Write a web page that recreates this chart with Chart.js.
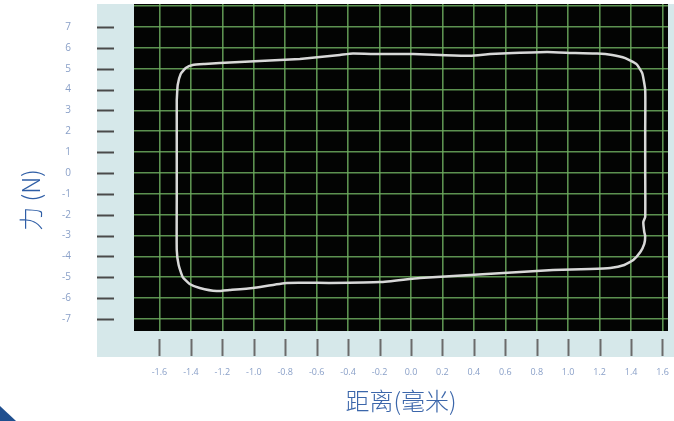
<!DOCTYPE html>
<html><head><meta charset="utf-8">
<script src="https://cdn.jsdelivr.net/npm/chart.js@4"></script>
<style>html,body{margin:0;padding:0;background:#fff;overflow:hidden}#wrap{width:674px;height:421px;position:relative}</style>
</head><body><div id="wrap"><canvas id="c"></canvas></div>
<script>
// Hysteresis loop (distance in mm, force in N)
const loopX = [-1.490,-1.484,-1.465,-1.433,-1.389,-1.312,-1.217,-1.089,-0.962,-0.834,-0.707,-0.580,-0.452,-0.369,-0.197,0.013,0.185,0.376,0.503,0.650,0.866,1.045,1.185,1.280,1.363,1.433,1.471,1.490,1.490,1.490,1.490,1.478,1.484,1.490,1.484,1.459,1.414,1.357,1.268,1.140,0.904,0.694,0.376,0.057,-0.197,-0.516,-0.790,-1.006,-1.153,-1.236,-1.344,-1.408,-1.452,-1.478,-1.490,-1.490,-1.490,-1.490];
const loopY = [3.50,4.22,4.75,5.03,5.18,5.23,5.27,5.32,5.37,5.42,5.47,5.56,5.66,5.73,5.70,5.70,5.66,5.62,5.70,5.75,5.80,5.75,5.73,5.66,5.51,5.23,4.79,3.98,2.06,0.14,-2.11,-2.35,-2.83,-3.02,-3.40,-3.79,-4.17,-4.41,-4.55,-4.60,-4.65,-4.75,-4.89,-5.03,-5.23,-5.27,-5.27,-5.51,-5.61,-5.66,-5.51,-5.32,-4.99,-4.41,-3.69,-1.29,1.10,3.50];
const xTicks = [-1.6,-1.4,-1.2,-1.0,-0.8,-0.6,-0.4,-0.2,0.0,0.2,0.4,0.6,0.8,1.0,1.2,1.4,1.6];
const yTicks = [-7,-6,-5,-4,-3,-2,-1,0,1,2,3,4,5,6,7,8];
const yLabelMax = 7;
const xTitle = '距离(毫米)';
const yTitle = '力 (N)';

const points = loopX.map((x, i) => ({x: x, y: loopY[i]}));

function noPad(s) { s.paddingTop = 0; s.paddingBottom = 0; s.paddingLeft = 0; s.paddingRight = 0; }

const decor = {
  id: 'decor',
  beforeDraw(chart) {
    const ctx = chart.ctx, a = chart.chartArea;
    ctx.save();
    ctx.fillStyle = '#d6e8ea';
    ctx.fillRect(97, a.top, chart.width - 97, 357 - a.top);
    ctx.fillStyle = '#030403';
    ctx.fillRect(a.left, a.top, a.right - a.left, a.bottom - a.top);
    ctx.fillStyle = '#1f4f8f';
    ctx.beginPath();
    ctx.moveTo(0, 406); ctx.lineTo(16, 421); ctx.lineTo(0, 421); ctx.closePath();
    ctx.fill();
    ctx.restore();
  },
  afterDraw(chart) {
    const ctx = chart.ctx, xs = chart.scales.x, ys = chart.scales.y;
    ctx.save();
    ctx.lineWidth = 2;
    ctx.strokeStyle = '#4a4a4a';
    ys.ticks.forEach(t => {
      if (t.value > yLabelMax) return;
      const p = Math.round(ys.getPixelForValue(t.value)) + 0.5;
      ctx.beginPath(); ctx.moveTo(97, p); ctx.lineTo(114, p); ctx.stroke();
    });
    ctx.strokeStyle = '#6a6a6a';
    xs.ticks.forEach(t => {
      const p = Math.round(xs.getPixelForValue(t.value)) + 0.5;
      ctx.beginPath(); ctx.moveTo(p, 339); ctx.lineTo(p, 356); ctx.stroke();
    });
    ctx.translate(31, 200);
    ctx.rotate(-Math.PI / 2);
    ctx.fillStyle = '#2f5ea6';
    ctx.font = '300 24px "Noto Sans CJK SC", "Noto Sans", sans-serif';
    ctx.textAlign = 'center';
    ctx.textBaseline = 'middle';
    ctx.fillText(yTitle, 0, 0);
    ctx.restore();
  }
};

new Chart(document.getElementById('c'), {
  type: 'scatter',
  data: {
    datasets: [{
      data: points,
      showLine: true,
      borderColor: '#d8d8d8',
      borderWidth: 2.5,
      pointRadius: 0,
      tension: 0.15,
      fill: false
    }]
  },
  options: {
    responsive: true,
    maintainAspectRatio: false,
    animation: false,
    devicePixelRatio: 1,
    layout: {padding: {top: 4, right: 6, bottom: 6, left: 0}},
    plugins: {legend: {display: false}, tooltip: {enabled: false}},
    scales: {
      x: {
        type: 'linear',
        min: -1.762, max: 1.635,
        afterBuildTicks: s => { s.ticks = xTicks.map(v => ({value: v})); },
        afterFit: s => { s.height = 84; noPad(s); },
        grid: {color: 'rgba(108,170,94,0.85)', lineWidth: 1.6, drawTicks: false},
        border: {display: false},
        ticks: {
          padding: 36,
          maxRotation: 0,
          autoSkip: false,
          color: '#8aa0c8',
          font: {family: '"Open Sans", sans-serif', size: 9},
          callback: v => Number(v).toFixed(1)
        },
        title: {
          display: true,
          text: xTitle,
          color: '#3b66aa',
          padding: {top: 0, bottom: 0},
          font: {family: '"Noto Sans CJK SC", sans-serif', size: 24, weight: '300'}
        }
      },
      y: {
        type: 'linear',
        min: -7.575, max: 8.103,
        afterBuildTicks: s => { s.ticks = yTicks.map(v => ({value: v})); },
        afterFit: s => { s.width = 134; noPad(s); },
        grid: {color: 'rgba(108,170,94,0.85)', lineWidth: 1.6, drawTicks: false},
        border: {display: false},
        ticks: {
          padding: 63,
          autoSkip: false,
          color: '#8aa0c8',
          font: {family: '"Open Sans", sans-serif', size: 10},
          callback: v => (v > yLabelMax ? '' : String(v))
        }
      }
    }
  },
  plugins: [decor]
});
</script>
</body></html>
